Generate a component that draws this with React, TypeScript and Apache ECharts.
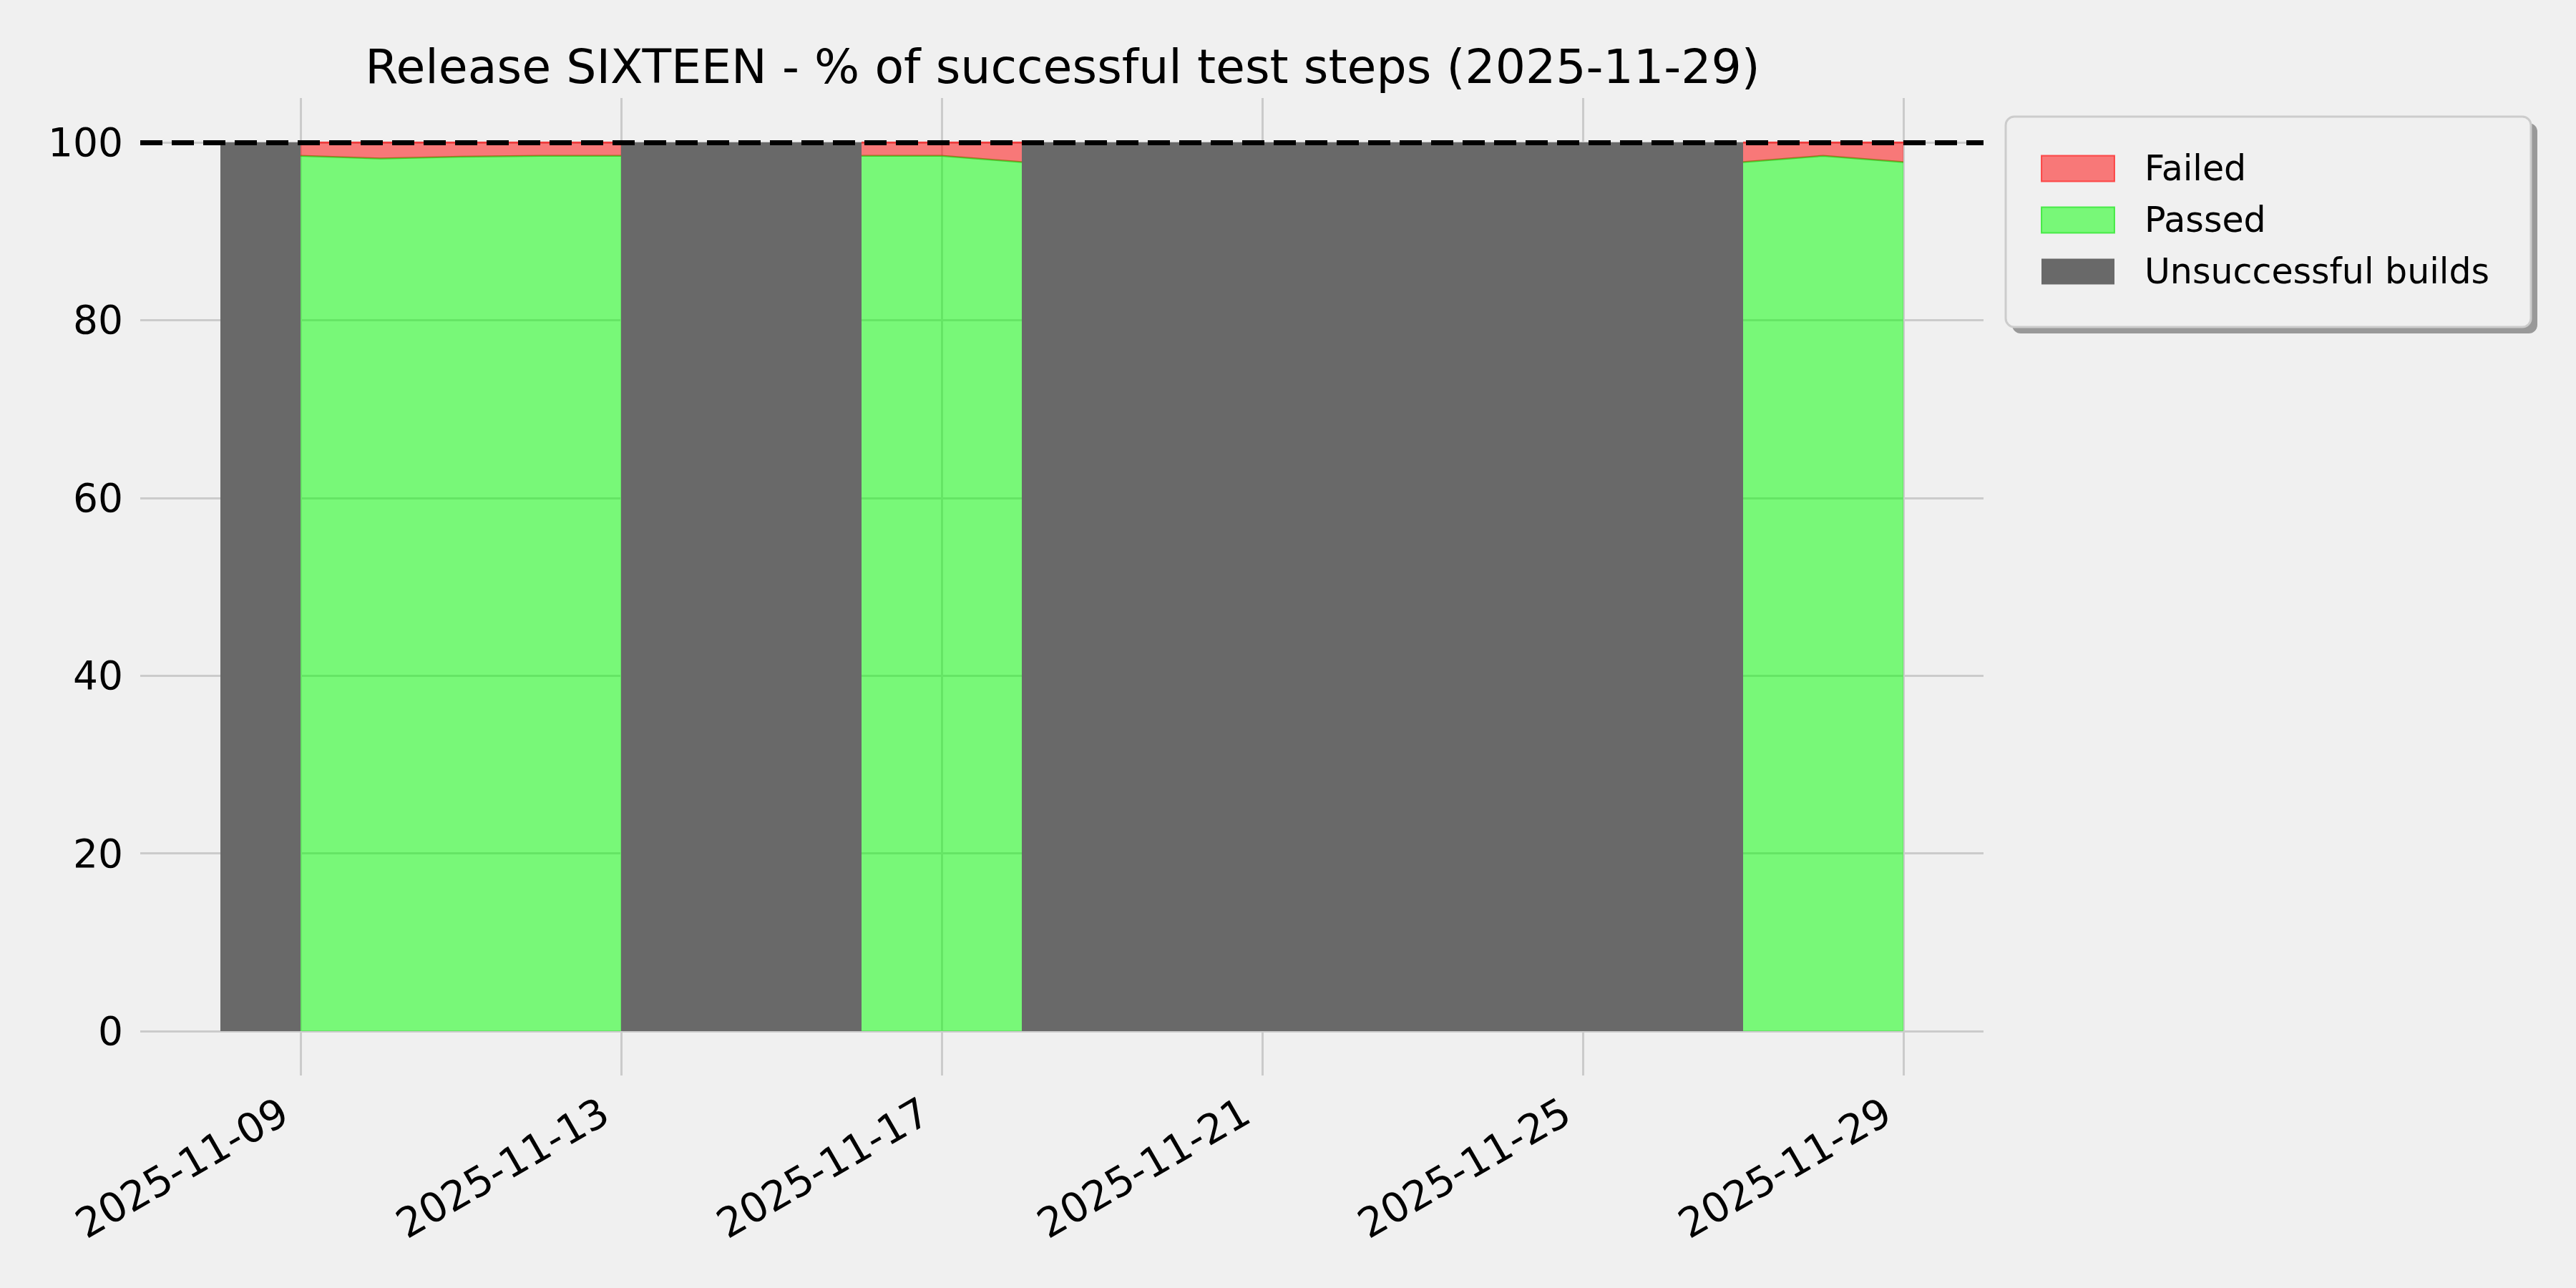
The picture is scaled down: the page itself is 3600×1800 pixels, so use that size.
import React, { useEffect, useRef } from 'react';
import * as echarts from 'echarts';

const FONT = 'DejaVu Sans';
const TITLE = 'Release SIXTEEN - % of successful test steps (2025-11-29)';

const dates = [
  '2025-11-08', '2025-11-09', '2025-11-10', '2025-11-11', '2025-11-12', '2025-11-13',
  '2025-11-14', '2025-11-15', '2025-11-16', '2025-11-17', '2025-11-18', '2025-11-19',
  '2025-11-20', '2025-11-21', '2025-11-22', '2025-11-23', '2025-11-24', '2025-11-25',
  '2025-11-26', '2025-11-27', '2025-11-28', '2025-11-29',
];
const passed = [
  null, 98.5, 98.2, 98.4, 98.5, 98.5,
  null, null, 98.5, 98.5, 97.8, null,
  null, null, null, null, null, null,
  null, 97.8, 98.5, 97.8,
];
const failed = [
  null, 1.5, 1.8, 1.6, 1.5, 1.5,
  null, null, 1.5, 1.5, 2.2, null,
  null, null, null, null, null, null,
  null, 2.2, 1.5, 2.2,
];
const unsuccessful = [
  100, 100, null, null, null, 100,
  100, 100, 100, null, 100, 100,
  100, 100, 100, 100, 100, 100,
  100, 100, null, null,
];
const xTickLabels = ['2025-11-09', '2025-11-13', '2025-11-17', '2025-11-21', '2025-11-25', '2025-11-29'];
const yTicks = [0, 20, 40, 60, 80, 100];
const targetLine = 100;

function shiftDay(d: string, n: number): string {
  const t = new Date(d + 'T00:00:00Z');
  t.setUTCDate(t.getUTCDate() + n);
  return t.toISOString().slice(0, 10);
}

const categories = [shiftDay(dates[0], -1), ...dates, shiftDay(dates[dates.length - 1], 1)];
const pad = (arr: (number | null)[]) => ['-', ...arr.map((v) => (v == null ? '-' : v)), '-'];

export default function App() {
  const ref = useRef<HTMLDivElement>(null);
  useEffect(() => {
    document.body.style.margin = '0';
    document.body.style.background = '#f0f0f0';
    if (!ref.current) return;
    const chart = echarts.init(ref.current, undefined, { renderer: 'svg' });
    const showX = (_i: number, v: string) => xTickLabels.includes(v);
    chart.setOption({
      animation: false,
      backgroundColor: '#f0f0f0',
      title: {
        text: TITLE,
        left: 1480,
        top: 54,
        textAlign: 'center',
        textStyle: { fontFamily: FONT, fontSize: 66.5, fontWeight: 'normal', color: '#000', lineHeight: 67 },
      },
      grid: { left: 196, right: 828, top: 137, bottom: 297, containLabel: false },
      xAxis: {
        type: 'category',
        data: categories,
        boundaryGap: false,
        axisLine: { show: false, onZero: false },
        axisTick: { show: false },
        axisLabel: {
          interval: showX,
          rotate: 30,
          fontFamily: FONT,
          fontSize: 57,
          color: '#000',
          margin: 33,
          padding: [0, 26, 0, 0],
        },
        splitLine: { show: true, interval: showX, lineStyle: { color: '#cbcbcb', width: 3 } },
      },
      yAxis: {
        type: 'value',
        min: -5,
        max: 105,
        splitNumber: 5,
        axisLine: { show: false },
        axisTick: { show: false },
        axisLabel: {
          showMinLabel: false,
          showMaxLabel: false,
          formatter: (v: number) => (yTicks.includes(v) ? String(v) : ''),
          fontFamily: FONT,
          fontSize: 55,
          color: '#000',
          margin: 24,
        },
        splitLine: { show: true, showMinLine: false, showMaxLine: false, lineStyle: { color: '#cbcbcb', width: 3 } },
      },
      legend: {
        orient: 'vertical',
        left: 2852,
        top: 211,
        padding: 0,
        itemWidth: 102,
        itemHeight: 36,
        itemGap: 23,
        icon: 'rect',
        z: 10,
        data: [
          { name: 'Failed', itemStyle: { color: 'rgba(255,0,0,0.5)', borderColor: 'rgba(255,30,30,0.7)', borderWidth: 2 } },
          { name: 'Passed', itemStyle: { color: 'rgba(0,255,0,0.5)', borderColor: 'rgba(30,230,30,0.7)', borderWidth: 2 } },
          { name: 'Unsuccessful builds', itemStyle: { color: '#696969', borderWidth: 0 } },
        ],
        textStyle: { fontFamily: FONT, fontSize: 49, color: '#000', lineHeight: 36, padding: [0, 0, 0, 37] },
      },
      graphic: [
        {
          type: 'rect',
          z: 1,
          silent: true,
          shape: { x: 2812, y: 172, width: 734, height: 294, r: 12 },
          style: { fill: '#999999' },
        },
        {
          type: 'rect',
          z: 1,
          silent: true,
          shape: { x: 2803, y: 163, width: 734, height: 294, r: 12 },
          style: { fill: '#f0f0f0', stroke: '#cccccc', lineWidth: 3 },
        },
      ],
      series: [
        {
          name: 'Unsuccessful builds',
          type: 'line',
          data: pad(unsuccessful),
          symbol: 'none',
          showSymbol: false,
          connectNulls: false,
          lineStyle: { width: 0, opacity: 0 },
          itemStyle: { color: '#696969' },
          areaStyle: { color: '#696969', opacity: 1 },
          z: 2,
        },
        {
          name: 'Passed',
          type: 'line',
          stack: 'tests',
          data: pad(passed),
          symbol: 'none',
          showSymbol: false,
          connectNulls: false,
          lineStyle: { color: 'rgba(40,200,20,0.75)', width: 2.5 },
          itemStyle: { color: 'rgba(0,255,0,0.5)' },
          areaStyle: { color: 'rgba(0,255,0,0.5)', opacity: 1 },
          z: 3,
        },
        {
          name: 'Failed',
          type: 'line',
          stack: 'tests',
          data: pad(failed),
          symbol: 'none',
          showSymbol: false,
          connectNulls: false,
          lineStyle: { color: 'rgba(255,0,0,0.6)', width: 2.5 },
          itemStyle: { color: 'rgba(255,0,0,0.5)' },
          areaStyle: { color: 'rgba(255,0,0,0.5)', opacity: 1 },
          z: 4,
          markLine: {
            silent: true,
            symbol: ['none', 'none'],
            label: { show: false },
            z: 10,
            lineStyle: { color: '#000', width: 7, type: [31, 13] },
            data: [{ yAxis: targetLine }],
          },
        },
      ],
    });
    return () => chart.dispose();
  }, []);
  return <div ref={ref} style={{ width: 3600, height: 1800 }} />;
}
